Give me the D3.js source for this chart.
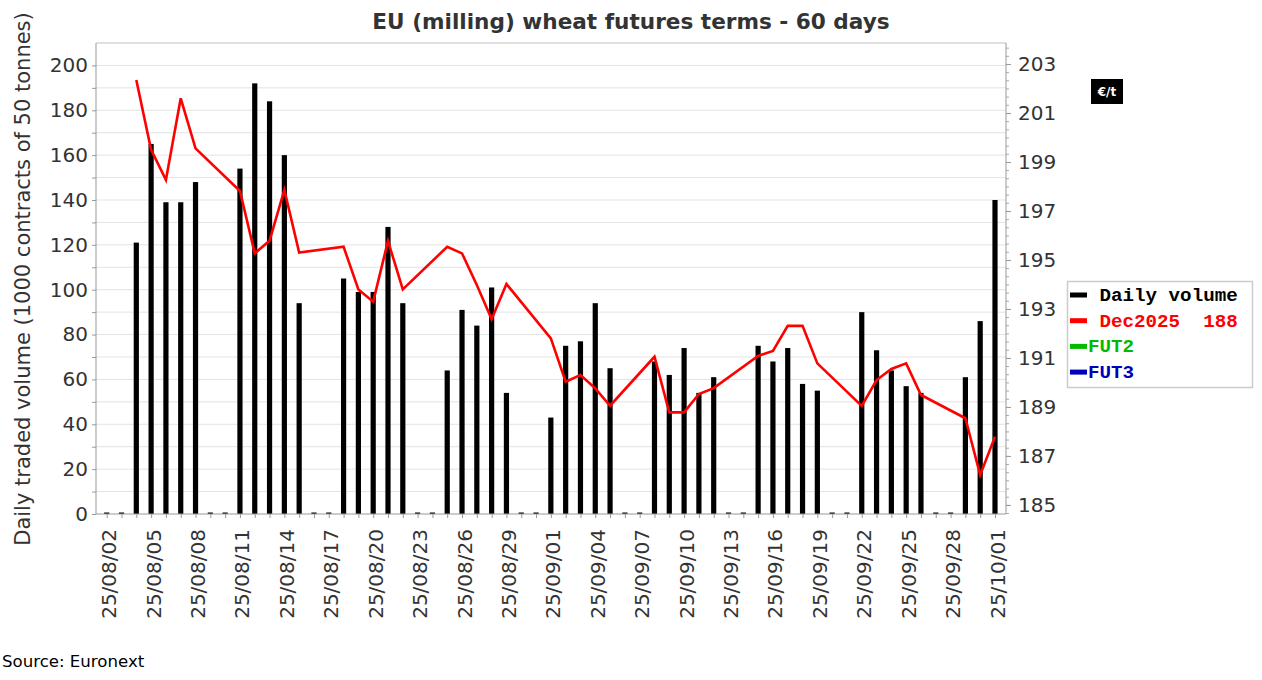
<!DOCTYPE html>
<html>
<head>
<meta charset="utf-8">
<script src="https://cdn.jsdelivr.net/npm/d3@7"></script>
<style>
  body { margin: 0; background: #fff; }
  text { font-family: "DejaVu Sans", sans-serif; }
  .mono { font-family: "Liberation Mono", "Courier New", monospace; font-weight: bold; white-space: pre; }
</style>
</head>
<body>
<svg width="1262" height="680"></svg>
<script>
// days shown (yy/mm/dd), 25/08/02 .. 25/10/01
let days = ["25/08/02","25/08/03","25/08/04","25/08/05","25/08/06","25/08/07","25/08/08","25/08/09","25/08/10",
  "25/08/11","25/08/12","25/08/13","25/08/14","25/08/15","25/08/16","25/08/17",
  "25/08/18","25/08/19","25/08/20","25/08/21","25/08/22","25/08/23","25/08/24",
  "25/08/25","25/08/26","25/08/27","25/08/28","25/08/29","25/08/30","25/08/31",
  "25/09/01","25/09/02","25/09/03","25/09/04","25/09/05","25/09/06","25/09/07",
  "25/09/08","25/09/09","25/09/10","25/09/11","25/09/12","25/09/13","25/09/14",
  "25/09/15","25/09/16","25/09/17","25/09/18","25/09/19","25/09/20","25/09/21",
  "25/09/22","25/09/23","25/09/24","25/09/25","25/09/26","25/09/27","25/09/28",
  "25/09/29","25/09/30","25/10/01"];

// daily volume, 1000 contracts (0 on weekends)
let volume = [0,0,121,165,139,139,148,0,0,
  154,192,184,160,94,0,0,
  105,99,99,128,94,0,0,
  64,91,84,101,54,0,0,
  43,75,77,94,65,0,0,
  68,62,74,54,61,0,0,
  75,68,74,58,55,0,0,
  90,73,64,57,54,0,0,
  61,86,140];

// Dec2025 settlement, €/t (null when no trading)
let price = [null,null,202.35,199.5,198.27,201.6,199.56,null,null,
  197.82,195.27,195.79,197.86,195.3,null,null,
  195.54,193.8,193.3,195.78,193.8,null,null,
  195.54,195.27,193.98,192.58,194.02,null,null,
  191.8,190.03,190.3,189.76,189.05,null,null,
  191.05,188.78,188.78,189.53,189.77,null,null,
  191.08,191.29,192.31,192.31,190.78,null,null,
  189.04,190.1,190.55,190.78,189.49,null,null,
  188.54,186.22,187.79];

let leftTicks = [0,20,40,60,80,100,120,140,160,180,200];
let rightTicks = [185,187,189,191,193,195,197,199,201,203];
let legendItems = [
  { label: " Daily volume", color: "#000000" },
  { label: " Dec2025  188", color: "#ff0000" },
  { label: "FUT2", color: "#00bb00" },
  { label: "FUT3", color: "#0000bb" }
];

var svg = d3.select("svg");
var plot = { left: 96, right: 1006, top: 43, bottom: 514 };

let xScale = d3.scalePoint()
  .domain(days)
  .range([plot.left + 10.7, plot.right - 11]);

let yScale = d3.scaleLinear()
  .domain([0, 210])
  .range([plot.bottom, plot.top]);

let y2Scale = d3.scaleLinear()
  .domain([184.63, 203.86])
  .range([plot.bottom, plot.top]);

// gridlines every 10
svg.append("g")
  .selectAll("line")
  .data(d3.range(10, 210, 10))
  .enter().append("line")
  .attr("x1", plot.left).attr("x2", plot.right)
  .attr("y1", d => yScale(d)).attr("y2", d => yScale(d))
  .attr("stroke", "#e3e3e3").attr("stroke-width", 1);

svg.append("line")
  .attr("x1", plot.left).attr("x2", plot.right)
  .attr("y1", plot.top).attr("y2", plot.top)
  .attr("stroke", "#e0e0e0").attr("stroke-width", 2);

// bars
svg.append("g")
  .selectAll("rect")
  .data(days)
  .enter().append("rect")
  .attr("x", d => xScale(d) - 2.6)
  .attr("width", 5.2)
  .attr("y", (d, i) => Math.min(yScale(volume[i]), plot.bottom - 1.5))
  .attr("height", (d, i) => Math.max(plot.bottom - yScale(volume[i]), 1.5))
  .attr("fill", "#000");

// price line
let pts = days.map((d, i) => [d, price[i]]).filter(p => p[1] != null);
let line = d3.line()
  .x(p => xScale(p[0]))
  .y(p => y2Scale(p[1]));

svg.append("path")
  .datum(pts)
  .attr("d", line)
  .attr("fill", "none")
  .attr("stroke", "#ff0000")
  .attr("stroke-width", 2.6)
  .attr("stroke-linejoin", "miter");

// left axis
let leftAxis = svg.append("g")
  .attr("transform", "translate(" + plot.left + ",0)")
  .call(d3.axisLeft(yScale).tickValues(d3.range(0, 210, 10)).tickSize(4).tickFormat(d => leftTicks.includes(d) ? d : ""));
leftAxis.select(".domain").attr("stroke", "#999").attr("d", "M0," + plot.top + "V" + plot.bottom);
leftAxis.selectAll(".tick line").attr("stroke", "#999");
leftAxis.selectAll(".tick text")
  .attr("fill", "#333").style("font-size", "20px").attr("x", -8);

// right axis
let minor = d3.range(0, 58).map(k => 184.67 + k / 3).filter(v => v <= 203.86);
let rightMinor = svg.append("g")
  .attr("transform", "translate(" + plot.right + ",0)")
  .call(d3.axisRight(y2Scale).tickValues(minor).tickSize(3).tickFormat(""));
rightMinor.select(".domain").remove();
rightMinor.selectAll(".tick line").attr("stroke", "#aaa");

let rightAxis = svg.append("g")
  .attr("transform", "translate(" + plot.right + ",0)")
  .call(d3.axisRight(y2Scale).tickValues(rightTicks).tickSize(5));
rightAxis.select(".domain").attr("stroke", "#999").attr("d", "M0," + plot.top + "V" + plot.bottom);
rightAxis.selectAll(".tick line").attr("stroke", "#999");
rightAxis.selectAll(".tick text")
  .attr("fill", "#333").style("font-size", "20px").attr("x", 12);

// bottom axis
let xAxis = svg.append("g")
  .attr("transform", "translate(0," + plot.bottom + ")")
  .call(d3.axisBottom(xScale).tickSize(4).tickFormat((d, i) => i % 3 == 0 ? d : ""));
xAxis.select(".domain").attr("stroke", "#999").attr("d", "M" + plot.left + ",0H" + plot.right);
xAxis.selectAll(".tick line").attr("stroke", "#999");
xAxis.selectAll(".tick text")
  .attr("fill", "#333")
  .style("font-size", "20px")
  .style("text-anchor", "end")
  .attr("transform", "rotate(-90)")
  .attr("x", -15)
  .attr("y", 2)
  .attr("dy", "0.35em");

// title and axis label
svg.append("text")
  .attr("x", 631).attr("y", 29)
  .attr("text-anchor", "middle")
  .attr("fill", "#333")
  .style("font-size", "21.6px").style("font-weight", "bold")
  .text("EU (milling) wheat futures terms - 60 days");

svg.append("text")
  .attr("transform", "translate(30,279) rotate(-90)")
  .attr("text-anchor", "middle")
  .attr("fill", "#333")
  .style("font-size", "21px")
  .text("Daily traded volume (1000 contracts of 50 tonnes)");

svg.append("text")
  .attr("x", 2).attr("y", 667)
  .attr("fill", "#000")
  .style("font-size", "16.6px")
  .text("Source: Euronext");

// unit box
svg.append("rect")
  .attr("x", 1091).attr("y", 79).attr("width", 32).attr("height", 25)
  .attr("fill", "#000");
svg.append("text")
  .attr("x", 1107).attr("y", 96)
  .attr("text-anchor", "middle")
  .attr("fill", "#fff")
  .style("font-size", "12px").style("font-weight", "bold")
  .text("€/t");

// legend
let legend = svg.append("g");
legend.append("rect")
  .attr("x", 1067.5).attr("y", 281.5).attr("width", 185).attr("height", 106)
  .attr("fill", "#fff").attr("stroke", "#ccc").attr("stroke-width", 1.5);

let rows = legend.selectAll(".row")
  .data(legendItems)
  .enter().append("g")
  .attr("class", "row")
  .attr("transform", (d, i) => "translate(1070," + (295 + i * 25.7) + ")");
rows.append("rect")
  .attr("x", 0).attr("y", -2.5).attr("width", 17).attr("height", 5)
  .attr("fill", d => d.color);
rows.append("text")
  .attr("class", "mono")
  .attr("x", 18).attr("y", 6)
  .attr("fill", d => d.color)
  .style("font-size", "19.2px")
  .text(d => d.label);
</script>
</body>
</html>
